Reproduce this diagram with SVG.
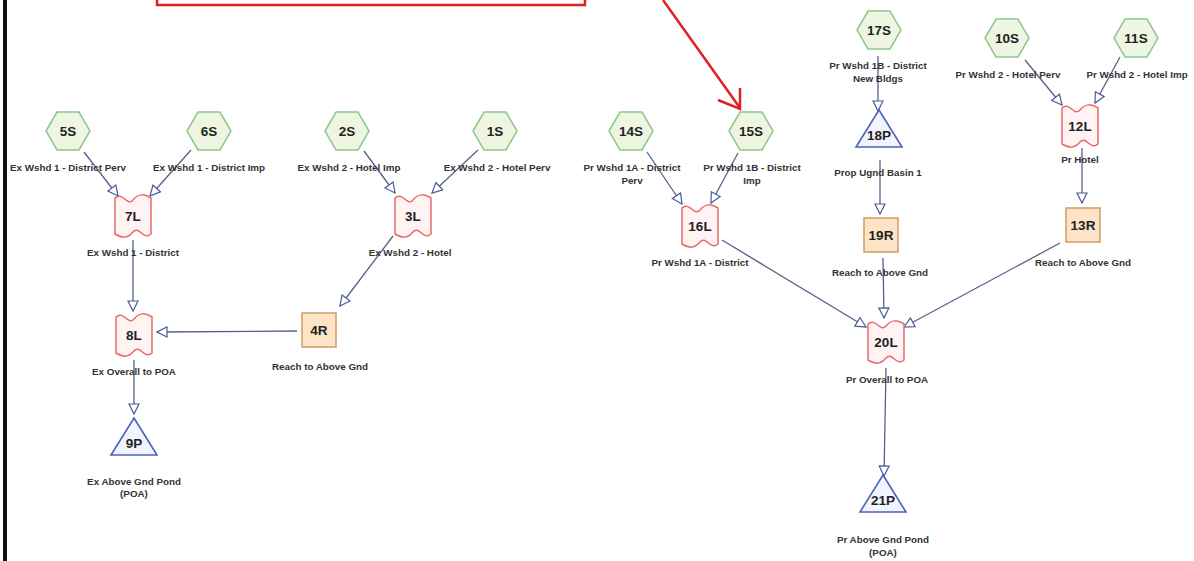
<svg xmlns="http://www.w3.org/2000/svg" width="1194" height="561" viewBox="0 0 1194 561">
<style>
text{font-family:"Liberation Sans",Arial,sans-serif;fill:#222;text-anchor:middle}
.id{font-size:13.5px;font-weight:bold}
.lb{font-size:9.8px;font-weight:bold;fill:#333}
.hex{fill:#eef6e2;stroke:#8cc88c;stroke-width:1.5}
.lag{fill:#fff3f3;stroke:#e86a6a;stroke-width:1.5}
.rch{fill:#fde4c6;stroke:#d29a66;stroke-width:1.5}
.pond{fill:#f2f4ff;stroke:#4a64b8;stroke-width:1.6}
.c line{stroke:#56608a;stroke-width:1.3;marker-end:url(#ah)}
</style>
<defs>
<marker id="ah" viewBox="0 0 12 12" refX="11" refY="6" markerWidth="12" markerHeight="12" markerUnits="userSpaceOnUse" orient="auto">
<path d="M1,1 L11,6 L1,11 Z" fill="#fff" stroke="#4a5a9a" stroke-width="1.2"/>
</marker>
<polygon id="hx" points="-22,0 -11,-19 11,-19 22,0 11,19 -11,19"/>
<path id="lg" d="M-18,-18 C-10,-25 -6,-9 0,-16 C6,-23 11,-22 18,-18 L18,18 C10,25 6,9 0,16 C-6,23 -11,22 -18,18 Z"/>
<rect id="rc" x="-17" y="-17" width="34" height="34"/>
<polygon id="tr" points="0,-25 23,12 -23,12"/>
</defs>

<rect x="3" y="-2" width="4" height="565" fill="#111"/>
<rect x="157" y="-10" width="428" height="15" fill="none" stroke="#dd2222" stroke-width="2.5"/>
<g stroke="#dd2222" stroke-width="2.5" fill="none">
<line x1="663" y1="0" x2="740" y2="108"/>
<polyline points="718,100 740,109 740,88"/>
</g>

<g class="c">
<line x1="84" y1="152" x2="118" y2="196"/>
<line x1="191" y1="150" x2="150" y2="196"/>
<line x1="133" y1="240" x2="133" y2="311"/>
<line x1="297" y1="331" x2="157" y2="332"/>
<line x1="134" y1="360" x2="134" y2="414"/>
<line x1="364" y1="151" x2="395" y2="193"/>
<line x1="478" y1="150" x2="432" y2="193"/>
<line x1="393" y1="236" x2="340" y2="306"/>
<line x1="647" y1="152" x2="682" y2="204"/>
<line x1="738" y1="153" x2="711" y2="203"/>
<line x1="722" y1="240" x2="866" y2="327"/>
<line x1="878" y1="56" x2="878" y2="111"/>
<line x1="880" y1="160" x2="880" y2="214"/>
<line x1="883" y1="258" x2="884" y2="318"/>
<line x1="1060" y1="243" x2="904" y2="327"/>
<line x1="1025" y1="60" x2="1062" y2="105"/>
<line x1="1120" y1="57" x2="1095" y2="103"/>
<line x1="1082" y1="148" x2="1082" y2="203"/>
<line x1="886" y1="368" x2="884" y2="476"/>
</g>

<g id="n5S"><use href="#hx" class="hex" x="68" y="131"/><text class="id" x="68" y="136">5S</text><text class="lb" x="68" y="171">Ex Wshd 1 - District Perv</text></g>
<g id="n6S"><use href="#hx" class="hex" x="209" y="131"/><text class="id" x="209" y="136">6S</text><text class="lb" x="209" y="171">Ex Wshd 1 - District Imp</text></g>
<g id="n7L"><use href="#lg" class="lag" x="133" y="216"/><text class="id" x="133" y="221">7L</text><text class="lb" x="133" y="256">Ex Wshd 1 - District</text></g>
<g id="n8L"><use href="#lg" class="lag" x="134" y="335"/><text class="id" x="134" y="340">8L</text><text class="lb" x="134" y="375">Ex Overall to POA</text></g>
<g id="n9P"><use href="#tr" class="pond" x="134" y="443"/><text class="id" x="134" y="448">9P</text><text class="lb" x="134" y="485">Ex Above Gnd Pond</text><text class="lb" x="134" y="497">(POA)</text></g>
<g id="n2S"><use href="#hx" class="hex" x="347" y="131"/><text class="id" x="347" y="136">2S</text><text class="lb" x="349" y="171">Ex Wshd 2 - Hotel Imp</text></g>
<g id="n1S"><use href="#hx" class="hex" x="495" y="131"/><text class="id" x="495" y="136">1S</text><text class="lb" x="497" y="171">Ex Wshd 2 - Hotel Perv</text></g>
<g id="n3L"><use href="#lg" class="lag" x="413" y="216"/><text class="id" x="413" y="221">3L</text><text class="lb" x="410" y="256">Ex Wshd 2 - Hotel</text></g>
<g id="n4R"><use href="#rc" class="rch" x="319" y="330"/><text class="id" x="319" y="335">4R</text><text class="lb" x="320" y="370">Reach to Above Gnd</text></g>

<g id="n14S"><use href="#hx" class="hex" x="631" y="131"/><text class="id" x="631" y="136">14S</text><text class="lb" x="632" y="171">Pr Wshd 1A - District</text><text class="lb" x="632" y="184">Perv</text></g>
<g id="n15S"><use href="#hx" class="hex" x="751" y="131"/><text class="id" x="751" y="136">15S</text><text class="lb" x="752" y="171">Pr Wshd 1B - District</text><text class="lb" x="752" y="184">Imp</text></g>
<g id="n16L"><use href="#lg" class="lag" x="700" y="226"/><text class="id" x="700" y="231">16L</text><text class="lb" x="700" y="266">Pr Wshd 1A - District</text></g>
<g id="n17S"><use href="#hx" class="hex" x="879" y="30"/><text class="id" x="879" y="35">17S</text><text class="lb" x="878" y="69">Pr Wshd 1B - District</text><text class="lb" x="878" y="82">New Bldgs</text></g>
<g id="n18P"><use href="#tr" class="pond" x="879" y="135"/><text class="id" x="879" y="140">18P</text><text class="lb" x="878" y="176">Prop Ugnd Basin 1</text></g>
<g id="n19R"><use href="#rc" class="rch" x="881" y="235"/><text class="id" x="881" y="240">19R</text><text class="lb" x="880" y="276">Reach to Above Gnd</text></g>
<g id="n10S"><use href="#hx" class="hex" x="1007" y="38"/><text class="id" x="1007" y="43">10S</text><text class="lb" x="1008" y="78">Pr Wshd 2 - Hotel Perv</text></g>
<g id="n11S"><use href="#hx" class="hex" x="1136" y="38"/><text class="id" x="1136" y="43">11S</text><text class="lb" x="1137" y="78">Pr Wshd 2 - Hotel Imp</text></g>
<g id="n12L"><use href="#lg" class="lag" x="1080" y="126"/><text class="id" x="1080" y="131">12L</text><text class="lb" x="1080" y="163">Pr Hotel</text></g>
<g id="n13R"><use href="#rc" class="rch" x="1083" y="225"/><text class="id" x="1083" y="230">13R</text><text class="lb" x="1083" y="266">Reach to Above Gnd</text></g>
<g id="n20L"><use href="#lg" class="lag" x="886" y="342"/><text class="id" x="886" y="347">20L</text><text class="lb" x="887" y="383">Pr Overall to POA</text></g>
<g id="n21P"><use href="#tr" class="pond" x="883" y="500"/><text class="id" x="883" y="505">21P</text><text class="lb" x="883" y="543">Pr Above Gnd Pond</text><text class="lb" x="883" y="556">(POA)</text></g>
</svg>
